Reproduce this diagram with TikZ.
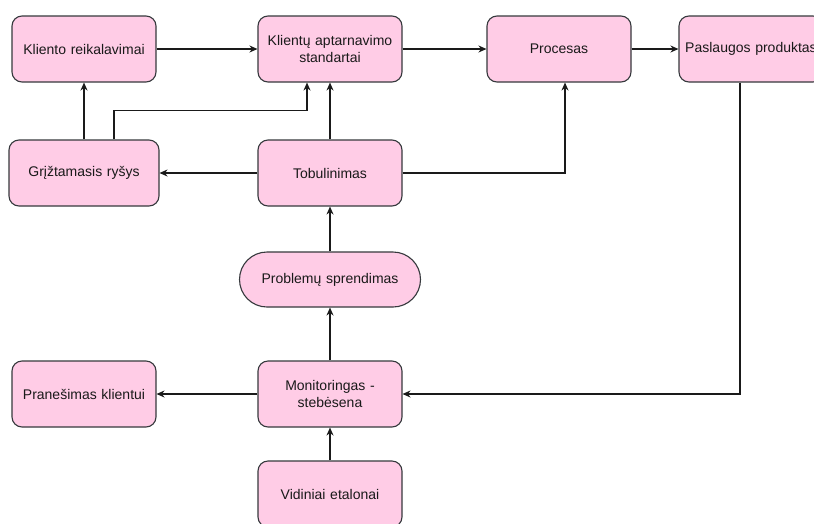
\documentclass[tikz,border=0pt]{standalone}
\usepackage{fontspec}
\setmainfont{Liberation Sans}
\usetikzlibrary{arrows.meta,calc}
\definecolor{boxfill}{HTML}{FFCCE6}
\definecolor{boxline}{HTML}{36393D}
\definecolor{wire}{HTML}{1A1A1A}
\begin{document}
\begin{tikzpicture}[x=1pt,y=-1pt,
  box/.style={draw=boxline,fill=boxfill,line width=1.1pt,rounded corners=10pt,
    minimum width=144pt,minimum height=66pt,inner sep=0pt,align=center,
    text width=140pt,font=\fontsize{14}{16.5}\selectfont,text=black!90},
  pill/.style={box,rounded corners=27.5pt,minimum width=181pt,minimum height=55pt},
  link/.style={draw=wire,line width=1.1pt,-{Stealth[length=8pt,width=7pt]}}]
\clip (0,0) rectangle (814,523);
\fill[white] (0,0) rectangle (814,523);

% boxes
\node[box] (kr)   at (84,49)   {Kliento reikalavimai};
\node[box] (kas)  at (330,49)  {Klientų aptarnavimo\\standartai};
\node[box] (proc) at (559,49)  {Procesas};
\node[box] (pp)   at (751,49)  {Paslaugos produktas};
\node[box,minimum width=150pt] (gr) at (84,173) {Grįžtamasis ryšys};
\node[box] (tob)  at (330,173) {Tobulinimas};
\node[pill] (ps)  at (330,279.5) {Problemų sprendimas};
\node[box] (pk)   at (84,394)  {Pranešimas klientui};
\node[box] (mon)  at (330,394) {Monitoringas -\\stebėsena};
\node[box] (ve)   at (330,494) {Vidiniai etalonai};

% connectors
\draw[link] (kr.east) -- (kas.west);
\draw[link] (kas.east) -- (proc.west);
\draw[link] (proc.east) -- (pp.west);
\draw[link] (tob.west) -- (gr.east);
\draw[link] (tob.north) -- (kas.south);
\draw[link] (tob.east) -| ($(proc.south)+(6,0)$);
\draw[link] (gr.north) -- (gr.north |- kr.south);
\draw[link] ($(gr.north)+(30,0)$) -- ++(0,-29) -| ($(kas.south)+(-23,0)$);
\draw[link] (ps.north) -- (tob.south);
\draw[link] (mon.north) -- (ps.south);
\draw[link] (mon.west) -- (pk.east);
\draw[link] (ve.north) -- (mon.south);
\draw[link] ($(pp.south)+(-11,0)$) |- (mon.east);
\end{tikzpicture}
\end{document}
